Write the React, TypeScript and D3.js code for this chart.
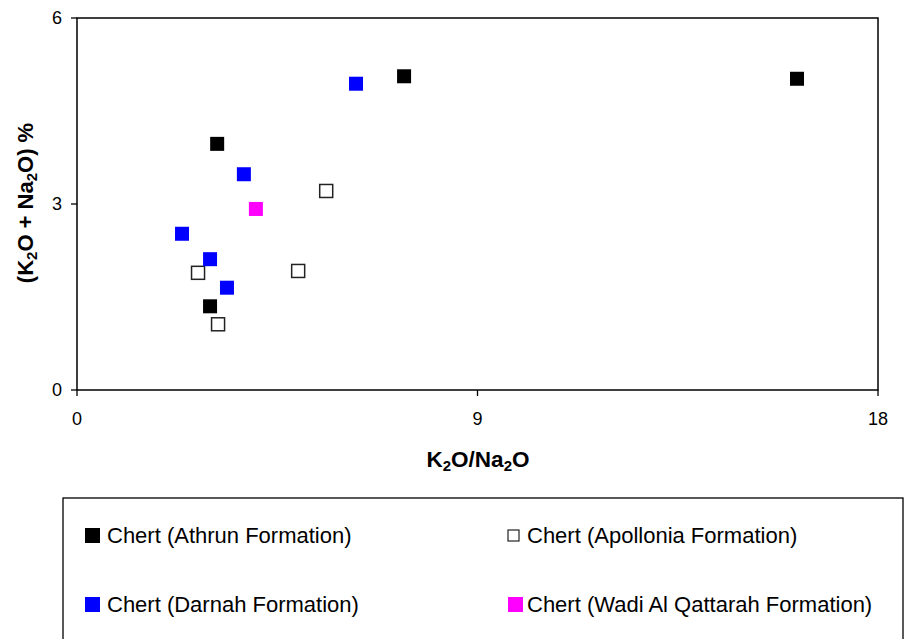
import React from "react";
import * as d3 from "d3";

const seriesNames = [
  "Chert (Athrun Formation)",
  "Chert (Apollonia Formation)",
  "Chert (Darnah Formation)",
  "Chert (Wadi Al Qattarah Formation)",
];
const athrunX = [3.15, 7.35, 16.18, 2.99];
const athrunY = [3.97, 5.06, 5.02, 1.35];
const apolloniaX = [5.6, 2.72, 4.97, 3.17];
const apolloniaY = [3.21, 1.89, 1.92, 1.06];
const darnahX = [6.27, 3.75, 2.36, 2.99, 3.37];
const darnahY = [4.94, 3.48, 2.52, 2.11, 1.65];
const wadiX = [4.02];
const wadiY = [2.92];
const xTicks = [0, 9, 18];
const yTicks = [0, 3, 6];

const W = 906;
const H = 639;
const M = { left: 77, right: 878, top: 18, bottom: 390 };

export default function App() {
  const x = d3.scaleLinear().domain([0, 18]).range([M.left, M.right]);
  const y = d3.scaleLinear().domain([0, 6]).range([M.bottom, M.top]);
  const font = "'Liberation Sans', Arial, sans-serif";

  const series = [
    { xs: athrunX, ys: athrunY, fill: "#000000", stroke: "none", open: false },
    { xs: apolloniaX, ys: apolloniaY, fill: "#ffffff", stroke: "#222", open: true },
    { xs: darnahX, ys: darnahY, fill: "#0000ff", stroke: "none", open: false },
    { xs: wadiX, ys: wadiY, fill: "#ff00ff", stroke: "none", open: false },
  ];
  const S = 14;

  const legendPos = [
    { x: 85, y: 535.5, tx: 107 },
    { x: 508, y: 535.5, tx: 527 },
    { x: 85, y: 604.5, tx: 107 },
    { x: 508, y: 604.5, tx: 527 },
  ];

  return (
    <svg
      width={W}
      height={H}
      style={{ position: "absolute", left: 0, top: 0, background: "#fff" }}
      fontFamily={font}
    >
      {/* frame */}
      <rect
        x={M.left}
        y={M.top}
        width={M.right - M.left}
        height={M.bottom - M.top}
        fill="none"
        stroke="#000"
        strokeWidth={1.5}
      />
      {/* y ticks */}
      {yTicks.map((t) => (
        <g key={"y" + t}>
          <line x1={M.left - 6} x2={M.left} y1={y(t)} y2={y(t)} stroke="#000" strokeWidth={1.3} />
          <text x={62} y={y(t)} dy="0.35em" textAnchor="end" fontSize={18}>
            {t}
          </text>
        </g>
      ))}
      {/* x ticks */}
      {xTicks.map((t) => (
        <g key={"x" + t}>
          <line x1={x(t)} x2={x(t)} y1={M.bottom} y2={M.bottom + 6} stroke="#000" strokeWidth={1.3} />
          <text x={x(t)} y={424.5} textAnchor="middle" fontSize={18}>
            {t}
          </text>
        </g>
      ))}
      {/* axis titles */}
      <text x={478} y={467} textAnchor="middle" fontSize={22.5} fontWeight="bold">
        K<tspan fontSize={15} dy={4}>2</tspan>
        <tspan dy={-4}>O/Na</tspan>
        <tspan fontSize={15} dy={4}>2</tspan>
        <tspan dy={-4}>O</tspan>
      </text>
      <text
        transform={`translate(33,${203}) rotate(-90)`}
        textAnchor="middle"
        fontSize={22}
        fontWeight="bold"
      >
        (K<tspan fontSize={15} dy={4}>2</tspan>
        <tspan dy={-4}>O + Na</tspan>
        <tspan fontSize={15} dy={4}>2</tspan>
        <tspan dy={-4}>O) %</tspan>
      </text>
      {/* points */}
      {series.map((s, i) =>
        s.xs.map((xv, j) => (
          <rect
            key={i + "-" + j}
            x={x(xv) - (s.open ? 6.5 : S / 2)}
            y={y(s.ys[j]) - (s.open ? 6.5 : S / 2)}
            width={s.open ? 13 : S}
            height={s.open ? 13 : S}
            fill={s.fill}
            stroke={s.stroke}
            strokeWidth={s.open ? 1.5 : 0}
          />
        ))
      )}
      {/* legend */}
      <rect x={63} y={498} width={840} height={160} fill="none" stroke="#000" strokeWidth={1.3} />
      {seriesNames.map((n, i) => {
        const s = series[i];
        const p = legendPos[i];
        const sz = s.open ? 11 : 15;
        return (
          <g key={n}>
            <rect
              x={p.x}
              y={p.y - sz / 2}
              width={sz}
              height={sz}
              fill={s.fill}
              stroke={s.stroke}
              strokeWidth={s.open ? 1.2 : 0}
            />
            <text x={p.tx} y={p.y} dy="0.35em" fontSize={22}>
              {n}
            </text>
          </g>
        );
      })}
    </svg>
  );
}
